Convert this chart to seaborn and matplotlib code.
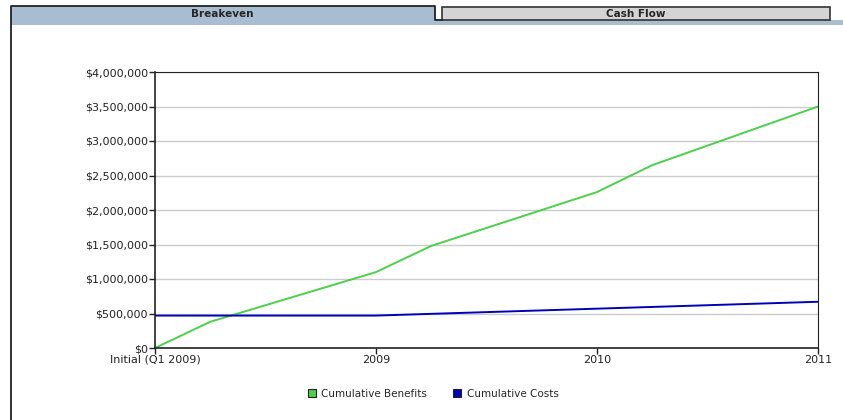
import pandas as pd
import numpy as np
import matplotlib.pyplot as plt
import seaborn as sns
from matplotlib.patches import Rectangle
from matplotlib.ticker import FuncFormatter

# Periods in years from the initial point (Q1 2009)
periods = [0, 0.25, 1, 1.25, 2, 2.25, 3]
benefits = [0, 380000, 1100000, 1480000, 2260000, 2650000, 3500000]
costs = [470000, 470000, 470000, 495000, 570000, 595000, 670000]

tick_pos = [0, 1, 2, 3]
tick_labels = ['Initial (Q1 2009)', '2009', '2010', '2011']

df = pd.DataFrame({
    'period': periods * 2,
    'value': benefits + costs,
    'series': ['Cumulative Benefits'] * len(periods) + ['Cumulative Costs'] * len(periods),
})
palette = {'Cumulative Benefits': '#4cd04c', 'Cumulative Costs': '#0000bb'}

sns.set_style('white')
plt.rcParams['font.family'] = ['DejaVu Sans']

fig = plt.figure(figsize=(8.43, 4.2), dpi=100)

# Tab strip at the top (pixel coords, y from top)
W, H = 843, 420
def px_rect(x0, y0, x1, y1, **kw):
    fig.patches.append(Rectangle((x0 / W, 1 - y1 / H), (x1 - x0) / W, (y1 - y0) / H,
                                 transform=fig.transFigure, **kw))

def px_line(xs, ys, **kw):
    fig.lines.append(plt.Line2D([x / W for x in xs], [1 - y / H for y in ys],
                                transform=fig.transFigure, **kw))

px_rect(11, 20, 843, 25, facecolor='#a9bdd2', edgecolor='none')
px_rect(11, 6, 435, 25, facecolor='#a9bdd2', edgecolor='none')
px_rect(442, 7, 830, 20, facecolor='#d4d4d4', edgecolor='#333333', linewidth=1.2)
px_line([11, 11, 435, 435, 442], [420, 6, 6, 20, 20], color='#222222', linewidth=1.3)
fig.text(222 / W, 1 - 14 / H, 'Breakeven', ha='center', va='center', fontsize=7.5, fontweight='bold')
fig.text(636 / W, 1 - 14 / H, 'Cash Flow', ha='center', va='center', fontsize=7.5, fontweight='bold')

ax = fig.add_axes([155 / W, 1 - 348 / H, 663 / W, 276 / H])
sns.lineplot(data=df, x='period', y='value', hue='series', palette=palette,
             linewidth=1.4, ax=ax, legend=False)

ax.set_xlim(0, 3)
ax.set_ylim(0, 4000000)
ax.set_yticks(np.arange(0, 4000001, 500000))
ax.yaxis.set_major_formatter(FuncFormatter(lambda v, p: f'${v:,.0f}'))
ax.set_xticks(tick_pos)
ax.set_xticklabels(tick_labels)
ax.grid(axis='y', color='#cccccc', linewidth=1)
ax.set_axisbelow(True)
ax.set_xlabel('')
ax.set_ylabel('')
ax.tick_params(axis='both', labelsize=8, length=4, width=1, color='#222222', colors='#222222',
               bottom=True, left=True, pad=1)
for name, sp in ax.spines.items():
    sp.set_color('#222222')
    sp.set_linewidth(1.2 if name in ('left', 'bottom') else 0.8)

handles = [Rectangle((0, 0), 1, 1, facecolor=palette[s], edgecolor='#222222', linewidth=0.8)
           for s in palette]
fig.legend(handles, list(palette.keys()), loc='center', bbox_to_anchor=(433 / W, 1 - 394 / H),
           ncol=2, frameon=False, fontsize=7.5, handlelength=0.8, handleheight=0.8,
           handletextpad=0.5, columnspacing=2.5)

fig.savefig('out.png', dpi=100)
